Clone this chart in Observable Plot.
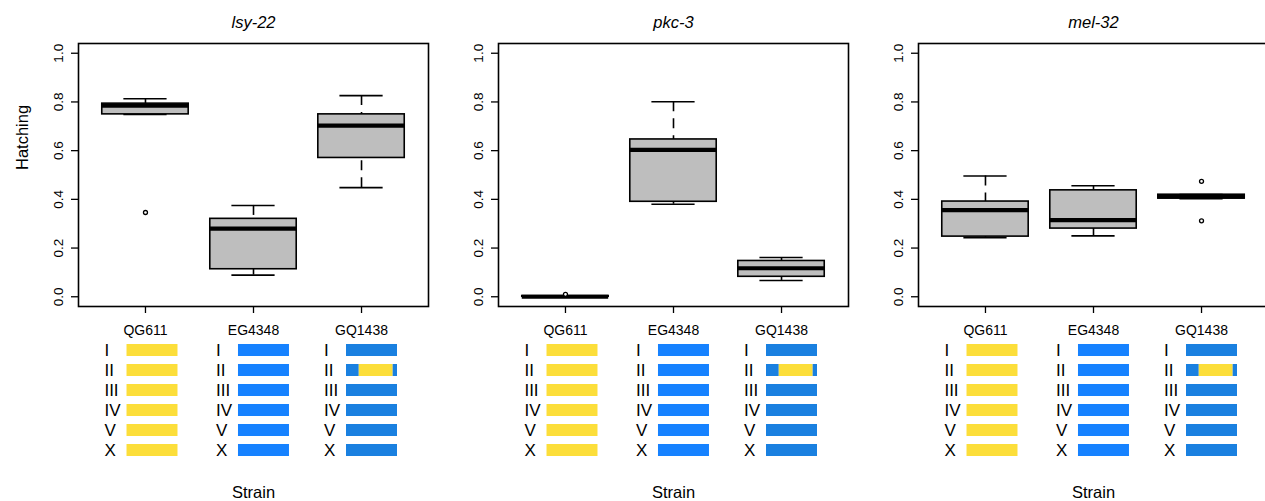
<!DOCTYPE html>
<html><head><meta charset="utf-8">
<script src="https://cdn.jsdelivr.net/npm/d3@7"></script>
<script src="https://cdn.jsdelivr.net/npm/@observablehq/plot@0.6"></script>
<style>
html,body{margin:0;padding:0;background:#fff;}
#chart{position:relative;width:1265px;height:501px;overflow:hidden;background:#fff;}
#chart svg{position:absolute;}
</style></head><body><div id="chart"></div>
<script>
// ---- data ----
const genes = ["lsy-22", "pkc-3", "mel-32"];
const strains = ["QG611", "EG4348", "GQ1438"];
// rows: gene, columns: strain
const whiskerLow  = [[0.749, 0.089, 0.448], [0.000, 0.380, 0.067], [0.243, 0.250, 0.403]];
const quartile1   = [[0.749, 0.113, 0.570], [0.000, 0.390, 0.082], [0.247, 0.280, 0.403]];
const medians     = [[0.785, 0.280, 0.703], [0.000, 0.603, 0.117], [0.356, 0.315, 0.412]];
const quartile3   = [[0.793, 0.320, 0.749], [0.003, 0.646, 0.147], [0.391, 0.437, 0.419]];
const whiskerHigh = [[0.813, 0.375, 0.826], [0.003, 0.801, 0.161], [0.496, 0.456, 0.420]];
const outlierGene   = ["lsy-22", "pkc-3", "mel-32", "mel-32"];
const outlierStrain = ["QG611", "QG611", "GQ1438", "GQ1438"];
const outlierValue  = [0.346, 0.010, 0.474, 0.312];
const yTicks = [0, 0.2, 0.4, 0.6, 0.8, 1.0];
const chromosomes = ["I", "II", "III", "IV", "V", "X"];
const strainBackground = ["QG611", "EG4348", "EG4348"];
const introgressionStrain = "GQ1438";
const introgressionChrom = "II";
const introgressionSource = "QG611";
const introgressionStart = 0.25;
const introgressionEnd = 0.915;

// ---- layout / style constants ----
const FONT = "Liberation Sans, Arial, Helvetica, sans-serif";
const xDomain = [0.38, 3.62];
const barStart = [-0.171, -0.139, -0.139];
const barLen = 0.472;
const labelOffset = [-0.38, -0.347, -0.347];
const YELLOW = "#FCDE3A", BLUE = "#1682FF", BLUE2 = "#1A80E0";
const style = {fontFamily: FONT, fontSize: "13px", color: "black", background: "transparent", overflow: "visible"};

// genome segments
const segments = [];
strains.forEach((s, k) => {
  chromosomes.forEach(c => {
    const bg = strainBackground[k];
    if (s === introgressionStrain && c === introgressionChrom) {
      segments.push({i: k + 1, strain: s, chrom: c, start: 0, end: introgressionStart, src: bg});
      segments.push({i: k + 1, strain: s, chrom: c, start: introgressionStart, end: introgressionEnd, src: introgressionSource});
      segments.push({i: k + 1, strain: s, chrom: c, start: introgressionEnd, end: 1, src: bg});
    } else {
      segments.push({i: k + 1, strain: s, chrom: c, start: 0, end: 1, src: bg});
    }
  });
});
const segColor = d => d.src === "QG611" ? YELLOW : (d.strain === "GQ1438" ? BLUE2 : BLUE);
const labelRows = strains.flatMap((s, k) => chromosomes.map(c => ({i: k + 1, chrom: c})));
const strainRows = strains.map((s, k) => ({i: k + 1, name: s}));

function topPlot(g) {
  const rows = strains.map((s, k) => ({
    i: k + 1, lo: whiskerLow[g][k], q1: quartile1[g][k], med: medians[g][k], q3: quartile3[g][k], hi: whiskerHigh[g][k]
  }));
  const outs = outlierValue.map((v, k) => ({gene: outlierGene[k], i: strains.indexOf(outlierStrain[k]) + 1, v}))
    .filter(d => d.gene === genes[g]);
  return Plot.plot({
    width: 430, height: 340, marginLeft: 78, marginRight: 2, marginTop: 43, marginBottom: 34,
    style,
    x: {domain: xDomain},
    y: {domain: [-0.04, 1.04]},
    marks: [
      Plot.ruleX(rows, {x: "i", y1: "hi", y2: "q3", strokeDasharray: "10,7", strokeWidth: 1.6}),
      Plot.ruleX(rows, {x: "i", y1: "lo", y2: "q1", strokeDasharray: "10,7", strokeWidth: 1.6}),
      Plot.ruleY(rows, {y: "hi", x1: d => d.i - 0.2, x2: d => d.i + 0.2, strokeWidth: 1.6}),
      Plot.ruleY(rows, {y: "lo", x1: d => d.i - 0.2, x2: d => d.i + 0.2, strokeWidth: 1.6}),
      Plot.rect(rows, {x1: d => d.i - 0.4, x2: d => d.i + 0.4, y1: "q1", y2: "q3", fill: "#BEBEBE", stroke: "black", strokeWidth: 1.6}),
      Plot.ruleY(rows, {y: "med", x1: d => d.i - 0.4, x2: d => d.i + 0.4, strokeWidth: 4.2}),
      Plot.dot(outs, {x: "i", y: "v", r: 2, stroke: "black", fill: "white", strokeWidth: 1.3}),
      Plot.frame({strokeWidth: 1.6}),
      Plot.axisY({ticks: yTicks, tickSize: 7, tickFormat: () => "", label: null, strokeWidth: 1.3}),
      Plot.text(yTicks, {y: d => d, text: d => d.toFixed(1), frameAnchor: "left", dx: -16, rotate: -90, textAnchor: "middle", lineAnchor: "bottom", fontSize: 13.5}),
      Plot.axisX({ticks: [1, 2, 3], tickSize: 7, tickFormat: () => "", label: null, strokeWidth: 1.3}),
      Plot.text(strainRows, {x: "i", text: "name", frameAnchor: "bottom", dy: 19, lineAnchor: "top", fontSize: 14}),
      Plot.text([genes[g]], {x: () => 2, text: d => d, frameAnchor: "top", dy: -27, fontStyle: "italic", fontSize: 16.5}),
      g === 0 ? Plot.text(["Hatching"], {text: d => d, frameAnchor: "left", dx: -56, dy: -5, rotate: -90, fontSize: 16.5}) : null
    ]
  });
}

function chromPlot(g) {
  return Plot.plot({
    width: 430, height: 166, marginLeft: 78, marginRight: 2, marginTop: 4.3, marginBottom: 39.7,
    style,
    x: {domain: xDomain, axis: null},
    y: {type: "band", domain: chromosomes, paddingInner: 0.39, paddingOuter: 0.195, axis: null},
    marks: [
      Plot.barX(segments, {
        x1: d => d.i + barStart[d.i - 1] + d.start * barLen,
        x2: d => d.i + barStart[d.i - 1] + d.end * barLen,
        y: "chrom", fill: segColor
      }),
      Plot.text(labelRows, {x: d => d.i + labelOffset[d.i - 1], y: "chrom", text: "chrom", textAnchor: "start", fontSize: 17, dy: 0.5}),
      Plot.text(["Strain"], {x: () => 2, text: d => d, frameAnchor: "bottom", dy: 35.8, lineAnchor: "bottom", fontSize: 16.5})
    ]
  });
}

const chart = document.getElementById("chart");
genes.forEach((gene, g) => {
  const t = topPlot(g);
  t.style.left = (420 * g) + "px"; t.style.top = "0px";
  chart.appendChild(t);
  const c = chromPlot(g);
  c.style.left = (420 * g) + "px"; c.style.top = "335px";
  chart.appendChild(c);
});
</script></body></html>
